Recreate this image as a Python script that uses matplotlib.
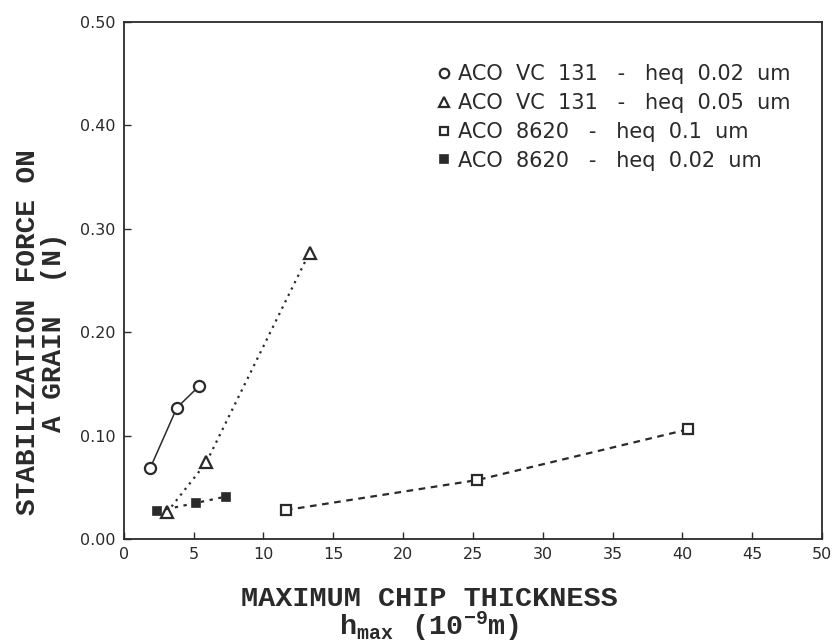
import matplotlib
matplotlib.use("Agg")
import matplotlib.pyplot as plt

# data
vc131_002_x = [1.9, 3.8, 5.4]
vc131_002_y = [0.069, 0.127, 0.148]

vc131_005_x = [3.1, 5.9, 13.3]
vc131_005_y = [0.026, 0.074, 0.277]

a8620_01_x = [11.6, 25.3, 40.4]
a8620_01_y = [0.028, 0.057, 0.106]

a8620_002_x = [2.4, 5.2, 7.3]
a8620_002_y = [0.027, 0.035, 0.041]

labels = [
    "ACO  VC  131   -   heq  0.02  um",
    "ACO  VC  131   -   heq  0.05  um",
    "ACO  8620   -   heq  0.1  um",
    "ACO  8620   -   heq  0.02  um",
]

xticks = [0, 5, 10, 15, 20, 25, 30, 35, 40, 45, 50]
yticks = [0.0, 0.1, 0.2, 0.3, 0.4, 0.5]

ink = "#2a2a2a"
mono = "Liberation Mono"

fig = plt.figure(figsize=(8.37, 6.44), dpi=100)
ax = fig.add_axes([0.148, 0.163, 0.834, 0.803])

ax.plot(vc131_002_x, vc131_002_y, color=ink, lw=1.1, ls="-",
        marker="o", ms=8, mfc="white", mew=1.6, label=labels[0])
ax.plot(vc131_005_x, vc131_005_y, color=ink, lw=1.6, ls=(0, (1, 2.2)),
        marker="^", ms=8, mfc="white", mew=1.6, label=labels[1])
ax.plot(a8620_01_x, a8620_01_y, color=ink, lw=1.6, ls=(0, (3, 2.5)),
        marker="s", ms=7, mfc="white", mew=1.6, label=labels[2])
ax.plot(a8620_002_x, a8620_002_y, color=ink, lw=1.6, ls=(0, (1.5, 2.5)),
        marker="s", ms=6, mfc=ink, mew=1.2, label=labels[3])

ax.set_xlim(0, 50)
ax.set_ylim(0, 0.5)
ax.set_xticks(xticks)
ax.set_xticklabels([str(t) for t in xticks])
ax.set_yticks(yticks)
ax.set_yticklabels(["%.2f" % t for t in yticks])
ax.tick_params(direction="in", length=5, width=1, colors=ink,
               labelsize=11.5, pad=6)
for s in ax.spines.values():
    s.set_color(ink)
    s.set_linewidth(1.3)

ax.set_xlabel("MAXIMUM CHIP THICKNESS\n$\\mathregular{h_{max}\\ \\ (10^{-9}m)}$",
              fontsize=20.5, family=mono, weight="bold", color=ink,
              linespacing=0.9)
ax.xaxis.set_label_coords(0.437, -0.09, transform=ax.transAxes)
ax.xaxis.label.set_va("top")
ax.set_ylabel("STABILIZATION FORCE ON\nA GRAIN  (N)", fontsize=20,
              family=mono, weight="bold", color=ink, linespacing=1.0)
ax.yaxis.set_label_coords(-0.082, 0.40, transform=ax.transAxes)

leg = ax.legend(loc="upper left", bbox_to_anchor=(0.45, 0.918),
                frameon=False, fontsize=15, handlelength=0.6,
                handletextpad=0.35, labelspacing=0.42, borderaxespad=0,
                borderpad=0, markerscale=0.85, labelcolor=ink)
for h in leg.get_lines():
    h.set_linestyle("None")

fig.savefig("out.png", dpi=100)
